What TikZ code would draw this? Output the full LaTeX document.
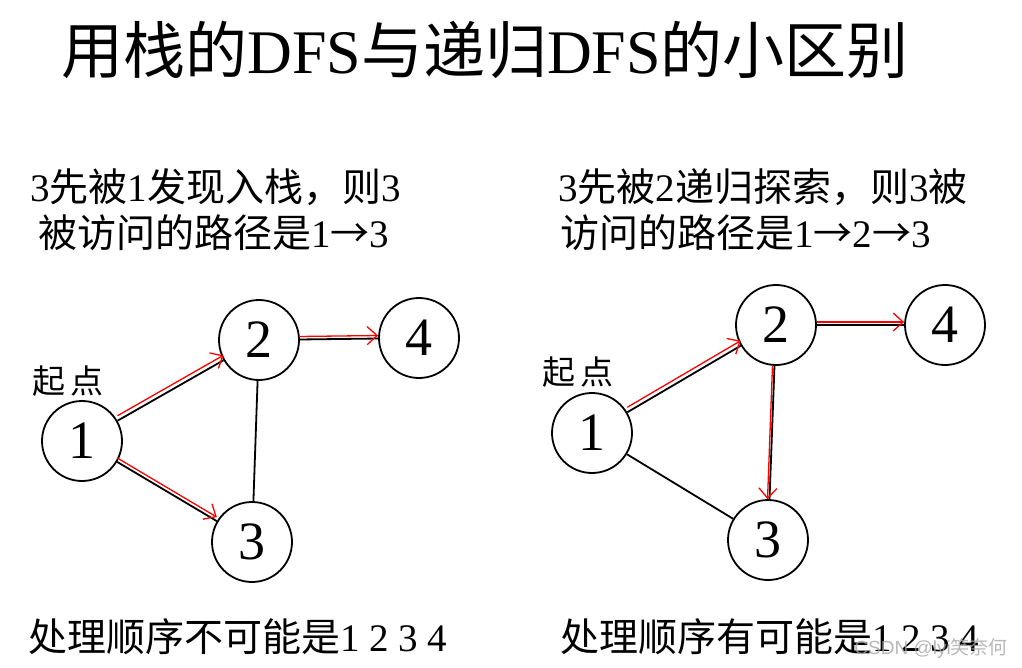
\documentclass[tikz,border=0pt]{standalone}
\usepackage{fontspec}
\setmainfont{Liberation Serif}
\newfontfamily\cjk{Noto Sans CJK SC}
\newfontfamily\wmfont{Liberation Sans}
\usetikzlibrary{arrows.meta}
\newcommand{\zh}[1]{{\cjk #1}}
\tikzset{
  vertex/.style={circle, draw, line width=1.8pt, minimum size=80pt, inner sep=0pt,
    font=\fontsize{54}{54}\selectfont},
  edge/.style={line width=1.8pt},
  visit/.style={red, line width=1.3pt, -{Straight Barb[length=10pt,width=18pt]}},
  caption/.style={anchor=west, align=left, inner sep=0pt,
    font=\fontsize{39}{46}\selectfont},
  startlabel/.style={inner sep=0pt, font=\fontsize{33}{33}\selectfont},
}
\begin{document}
\begin{tikzpicture}[x=1pt, y=-1pt]
  \useasboundingbox[fill=white] (0,0) rectangle (1022,668);
  % 标题
  \node (title) at (485,50) {\fontsize{62}{62}\selectfont\zh{用栈的}DFS\zh{与递归}DFS\zh{的小区别}};

  % 左边: 用栈
  \node[caption] (ltext) at (30,210) {3\zh{先被}1\zh{发现入栈，则}3\\
    \hspace*{8pt}\zh{被访问的路径是}1\zh{→}3};
  \node[vertex] (l1) at (82,441) {1};
  \node[vertex] (l2) at (259,340) {2};
  \node[vertex] (l3) at (252,542) {3};
  \node[vertex] (l4) at (419,338) {4};
  \node[startlabel] (lstart) at (68,381) {\zh{起\,点}};
  \draw[edge] (l1) -- (l2);
  \draw[edge] (l1) -- (l3);
  \draw[edge] (l2) -- (l3);
  \draw[edge] (l2) -- (l4);
  \draw[visit, transform canvas={yshift=5pt}] (l1) -- (l2);
  \draw[visit, transform canvas={yshift=4pt}] (l1) -- (l3);
  \draw[visit, transform canvas={yshift=3pt}] (l2) -- (l4);
  \node[caption] (lorder) at (28,637) {\zh{处理顺序不可能是}1 2 3 4};

  % 右边: 递归
  \node[caption] (rtext) at (558,210) {3\zh{先被}2\zh{递归探索，则}3\zh{被}\\
    \hspace*{2pt}\zh{访问的路径是}1\zh{→}2\zh{→}3};
  \node[vertex] (r1) at (592,433) {1};
  \node[vertex] (r2) at (776,325) {2};
  \node[vertex] (r3) at (768,540) {3};
  \node[vertex] (r4) at (945,325) {4};
  \node[startlabel] (rstart) at (578,372) {\zh{起\,点}};
  \draw[edge] (r1) -- (r2);
  \draw[edge] (r1) -- (r3);
  \draw[edge] (r2) -- (r3);
  \draw[edge] (r2) -- (r4);
  \draw[visit, transform canvas={yshift=5pt}] (r1) -- (r2);
  \draw[visit, transform canvas={xshift=-2pt}] (r2) -- (r3);
  \draw[visit, transform canvas={yshift=3pt}] (r2) -- (r4);
  \node[caption] (rorder) at (560,637) {\zh{处理顺序有可能是}1 2 3 4};

  % 水印
  \node[anchor=east, text=gray!70, opacity=0.8, inner sep=0pt,
    font=\wmfont\fontsize{19}{19}\selectfont] (mark) at (1008,648) {CSDN @lyi\zh{笑奈何}};
\end{tikzpicture}
\end{document}
